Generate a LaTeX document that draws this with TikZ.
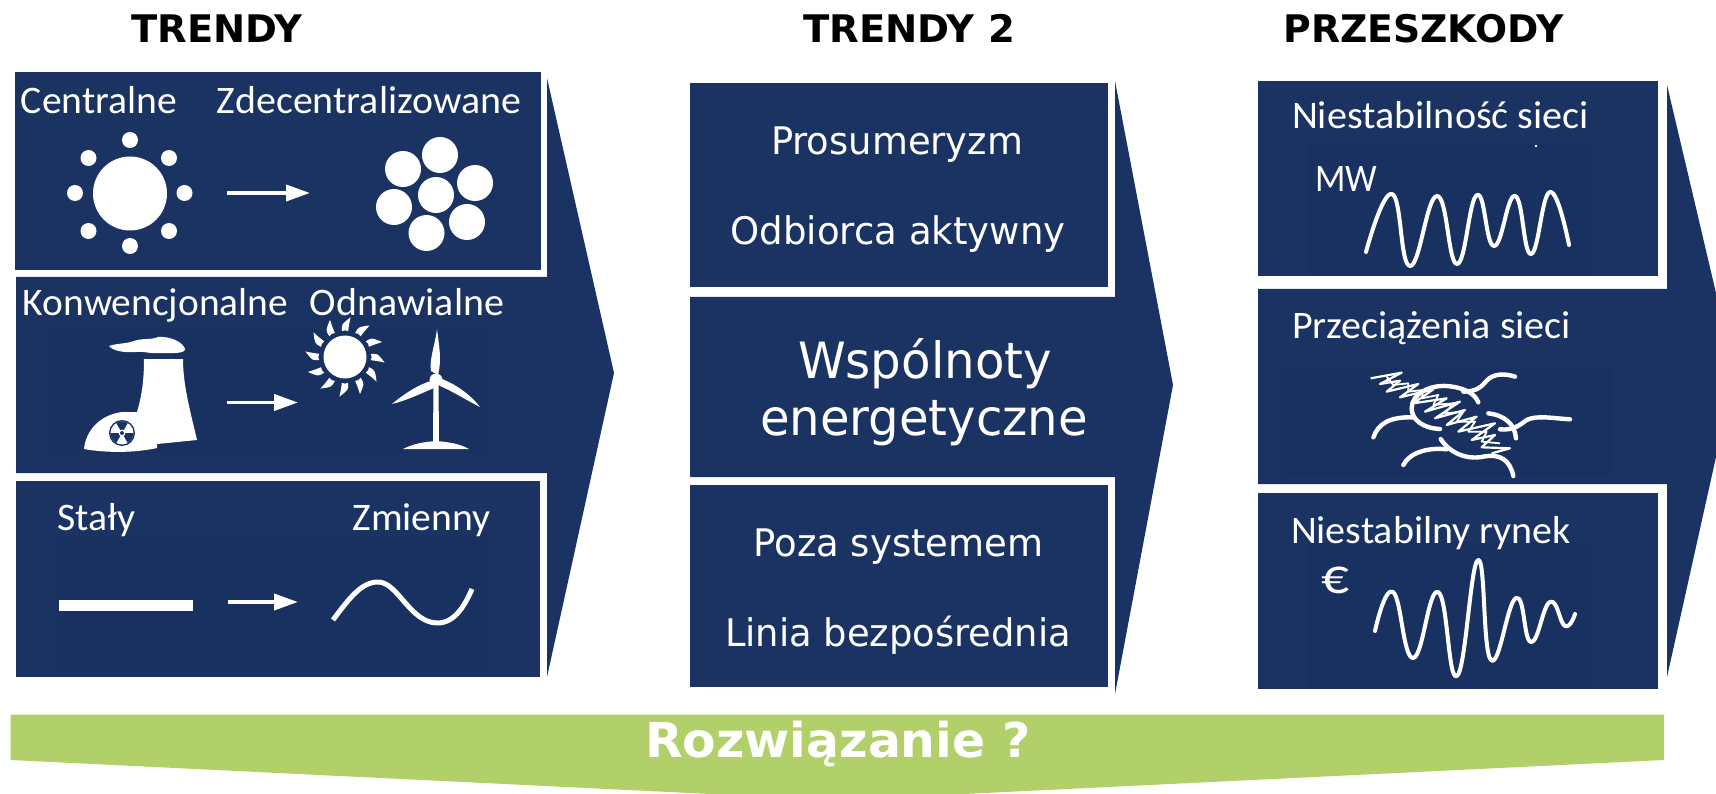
\documentclass[tikz,border=0pt]{standalone}
\usepackage{graphicx}
\usepackage{fontspec}
\usetikzlibrary{arrows.meta,decorations.pathmorphing}
\newfontfamily\fdv{DejaVu Sans}
\newfontfamily\fcb{Carlito}
\definecolor{navy}{HTML}{1B3363}
\definecolor{navyin}{HTML}{183160}
\definecolor{grn}{HTML}{B1D069}
\newcommand\fitw[2]{\resizebox{#1pt}{\height}{#2}}
\newcommand\fsz[1]{\fontsize{#1}{#1}\selectfont}
\tikzset{
  panel/.style={fill=navy,draw=none},
  inner/.style={fill=navyin,draw=none},
  icon/.style={fill=white,draw=none},
  title/.style={inner sep=0pt,anchor=base,text=black,font=\fdv\bfseries\fsz{38}},
  cal/.style={inner sep=0pt,anchor=base,text=white,font=\fcb\fsz{39}},
  ver/.style={inner sep=0pt,anchor=base,text=white,font=\fdv\fsz{38}},
  big/.style={inner sep=0pt,anchor=base,text=white,font=\fdv\fsz{50}},
  curve/.style={draw=white,line width=4pt,line cap=round,line join=round},
  flow/.style={draw=white,line width=3.8pt,-{Triangle[width=16pt,length=24pt]}},
}
\begin{document}
\begin{tikzpicture}[x=1pt,y=-1pt]
\useasboundingbox (0,0) rectangle (1716,794);
\fill[white] (0,0) rectangle (1716,794);

% ---------- green banner
\fill[grn] (10.5,714.5) -- (1664,714.5) -- (1664,760) -- (964,794) -- (710,794) -- (10.5,760) -- cycle;
\node[inner sep=0pt,anchor=base,text=white,font=\fdv\bfseries\fsz{48}] (sol) at (838,757) {\fitw{386}{Rozwiązanie ?}};

% ---------- titles
\node[title] (t1) at (217,43) {\fitw{171}{TRENDY}};
\node[title] (t2) at (909,43) {\fitw{212}{TRENDY 2}};
\node[title] (t3) at (1423.5,43) {\fitw{280}{PRZESZKODY}};

% ---------- left chevron
\fill[panel] (16,277) -- (547,277) -- (547,78) -- (614,373) -- (547,677) -- (547,473) -- (16,473) -- cycle;
\fill[panel] (15,72) rectangle (541,270);
\fill[panel] (16,481) rectangle (540,677);
\fill[inner] (50,330) rectangle (490,454);
\fill[inner] (55,536) rectangle (487,671);

\node[cal] (l1) at (99,114) {\fitw{156}{Centralne}};
\node[cal] (l2) at (369,114) {\fitw{304}{Zdecentralizowane}};
\node[cal] (l3) at (155.5,316) {\fitw{265}{Konwencjonalne}};
\node[cal] (l4) at (407,316) {\fitw{194}{Odnawialne}};
\node[cal] (l5) at (96.5,530) {\fitw{78}{Stały}};
\node[cal] (l6) at (421.5,530) {\fitw{138}{Zmienny}};

% central sun
\fill[icon] (130,193.5) circle (37);
\foreach \p in {(130,140),(130,246),(75,193),(184.5,193),(88.5,158),(169,158),(88.5,231),(169,231)}
  \fill[icon] \p circle (8);
% arrows between icons
\coordinate (a1s) at (227,193); \coordinate (a1e) at (310,193);
\coordinate (a2s) at (226.5,402.5); \coordinate (a2e) at (298,402.5);
\coordinate (a3s) at (228,602); \coordinate (a3e) at (298,602);
\draw[flow] (a1s) -- (a1e);
\draw[flow] (a2s) -- (a2e);
\draw[flow] (a3s) -- (a3e);
% cluster
\foreach \p in {(440,155),(403,169),(475,183),(436,195),(394,207),(467,222),(426.5,233)}
  \fill[icon] \p circle (18);

% power plant
\fill[icon] (109,346) .. controls (118,343) and (126,344) .. (134,341)
  .. controls (142,338) and (152,340) .. (158,337)
  .. controls (170,336) and (183,342) .. (185,349)
  .. controls (185,354) and (172,353) .. (160,353)
  .. controls (150,354) and (144,351) .. (136,352)
  .. controls (125,353) and (113,351) .. (109,346) -- cycle;
\fill[icon] (144,359) -- (183,359) .. controls (183,385) and (190,410) .. (197,440)
  -- (157,444) -- (157,448) .. controls (135,453) and (105,453) .. (84,449)
  .. controls (86,430) and (100,415) .. (122,412) -- (137,412) .. controls (142,395) and (144,380) .. (144,359) -- cycle;
\fill[navyin] (122,433) circle (13);
\fill[white] (122,433) circle (11.5);
\foreach \a in {270,30,150}
  \fill[navy] (122,433) -- ++(\a-30:11.5) arc[start angle=\a-30,end angle=\a+30,radius=11.5] -- cycle;
\fill[white] (122,433) circle (3.4);
\fill[navy] (122,433) circle (2);

% sun with rays
\begin{scope}[shift={(345,357)}]
\fill[icon] (0,0) circle (21.5);
\foreach \a in {0,30,...,330}
  \fill[icon] (\a-7:26) .. controls (\a-6:33) .. (\a+8:40) .. controls (\a+7:32) .. (\a+7:26) .. controls (\a:27) .. cycle;
\end{scope}

% wind turbine
\fill[icon] (433,442) -- (439,442) -- (438.5,382) -- (433.5,382) -- cycle;
\fill[icon] (403,449) .. controls (415,443) and (425,442) .. (436,441) .. controls (447,442) and (458,443) .. (469,449) -- cycle;
\fill[icon] (436,380) circle (6.5);
\fill[icon] (437,329) .. controls (435,345) and (429,360) .. (431,371) -- (438,375) .. controls (442,360) and (439,345) .. (437,329) -- cycle;
\fill[icon] (392,404) .. controls (405,393) and (420,384) .. (431,381) -- (434,388) .. controls (420,394) and (405,401) .. (392,404) -- cycle;
\fill[icon] (480,407) .. controls (470,394) and (455,384) .. (442,379) -- (440,386) .. controls (452,391) and (468,401) .. (480,407) -- cycle;

% flat bar and sine
\fill[icon] (59,600) rectangle (193,611);
\draw[curve,line width=5pt,line cap=butt] (333,620) .. controls (350,597) and (362,582) .. (378,582) .. controls (398,582) and (410,623) .. (437.5,623) .. controls (455,623) and (465,605) .. (472,589);

% ---------- middle chevron
\fill[panel] (690,297) -- (1115,297) -- (1115,81) -- (1173,385) -- (1115,694) -- (1115,477) -- (690,477) -- cycle;
\fill[panel] (690,83) rectangle (1107.5,287);
\fill[panel] (690,485) rectangle (1107.5,687);

\node[ver] (m1) at (897,155) {\fitw{252}{Prosumeryzm}};
\node[ver] (m2) at (898,245) {\fitw{335}{Odbiorca aktywny}};
\node[big] (m3) at (925,378) {\fitw{254}{Wspólnoty}};
\node[big] (m4) at (924,435) {\fitw{328}{energetyczne}};
\node[ver] (m5) at (898.5,556) {\fitw{290}{Poza systemem}};
\node[ver] (m6) at (898,646) {\fitw{346}{Linia bezpośrednia}};

% ---------- right chevron
\fill[panel] (1258,289) -- (1667,289) -- (1667,85) -- (1716,293) -- (1716,457) -- (1667,677) -- (1667,484) -- (1258,484) -- cycle;
\fill[panel] (1258,81) rectangle (1658,276);
\fill[panel] (1258,493) rectangle (1658,689);
\fill[inner] (1308,143) rectangle (1590,276);
\fill[inner] (1282,367) rectangle (1612,477);
\fill[inner] (1308,542) rectangle (1590,689);

\node[cal] (r1) at (1440.5,129) {\fitw{297}{Niestabilność sieci}};
\node[cal] (r2) at (1346,192) {\fitw{62}{MW}};
\node[cal] (r3) at (1431.5,338) {\fitw{279}{Przeciążenia sieci}};
\node[cal] (r4) at (1431,543) {\fitw{280}{Niestabilny rynek}};
\node[cal,font=\fcb\fsz{50}] (r5) at (1335,593) {\fitw{28}{€}};
\fill[icon] (1536,146) circle (1.4);

\draw[curve] plot[smooth,tension=0.8] coordinates {(1366,252) (1392,194) (1410,266) (1437,196) (1457,264) (1477,195) (1494,246) (1515,196) (1531,254) (1550,192) (1569,245)};
\draw[curve] plot[smooth,tension=0.8] coordinates {(1375,631) (1393,592) (1413,658) (1438,592) (1457,676) (1478,560) (1491,660) (1516,598) (1531,642) (1550,602) (1565,626) (1575,614)};

% tangled lines icon
\begin{scope}[shift={(1350,360)},x=0.3333pt,y=-0.3333pt]
\tikzset{tangle/.style={draw=white,line width=4.4pt,line cap=round}}
\draw[tangle] (70,232) .. controls (85,190) and (120,170) .. (190,172);
\draw[tangle] (270,207) .. controls (220,205) and (185,180) .. (185,145) .. controls (185,100) and (240,75) .. (290,78) .. controls (340,82) and (375,100) .. (385,127);
\draw[tangle] (340,95) .. controls (380,95) and (395,80) .. (410,62) .. controls (430,40) and (465,40) .. (495,50);
\draw[tangle] (415,160) .. controls (460,165) and (495,190) .. (498,235);
\draw[tangle] (450,208) .. controls (490,212) and (510,195) .. (530,180) .. controls (560,165) and (610,175) .. (660,178);
\draw[tangle] (160,315) .. controls (180,275) and (240,262) .. (290,268);
\draw[tangle] (272,237) .. controls (300,280) and (350,300) .. (400,290) .. controls (450,280) and (480,300) .. (490,348);
\draw[draw=white,line width=2.2pt,line join=round]
 (62,55) -- (155,38) -- (90,72) -- (150,62) -- (110,95) -- (205,72) -- (150,112) -- (250,88) -- (190,130)
 -- (290,115) -- (225,155) -- (330,125) -- (255,175) -- (345,150) -- (290,195) -- (380,170) -- (325,215)
 -- (435,190) -- (365,240) -- (435,225) -- (395,262) -- (480,265) -- (425,280);
\draw[draw=white,line width=1.8pt,line join=round]
 (110,50) -- (130,75) -- (175,70) -- (175,95) -- (220,90) -- (215,115) -- (265,105) -- (250,135)
 -- (310,130) -- (285,160) -- (340,155) -- (320,185) -- (375,185) -- (355,215) -- (410,215) -- (395,245) -- (450,250);
\end{scope}
\end{tikzpicture}
\end{document}
